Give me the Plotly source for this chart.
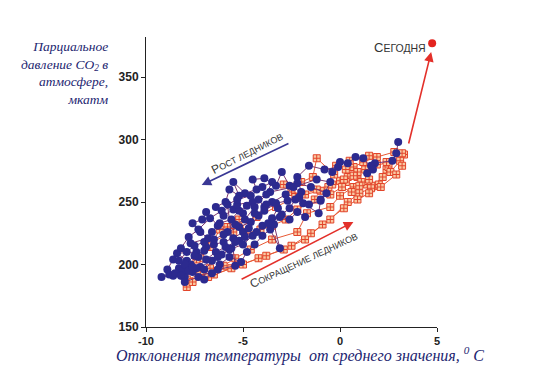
import plotly.graph_objects as go

# Glaciation (blue) series: temperature anomaly, CO2 partial pressure
blue_x = [3.0, 2.9, 2.7, 1.8, 1.6, 1.4, 1.7, 1.2, 0.8, 0.4, 0.0, -0.4, -0.1, -0.8, -1.6, -2.2, -2.0, -2.6, -3.0, -3.3,
          -3.9, -4.5, -4.3, -4.9, -5.5, -5.2, -5.7, -5.9, -6.4, -6.0, -5.5, -5.0, -4.6, -5.2, -5.8, -6.3, -6.9, -7.1, -7.6, -7.2,
          -6.8, -7.7, -7.4, -8.4, -7.9, -8.3, -8.8, -9.2, -8.6, -8.0, -7.6, -7.0, -6.6, -6.2, -5.7, -5.1, -4.8, -4.4, -4.0, -3.6,
          -3.1, -3.4, -3.0, -2.6, -2.3, -1.9, -1.1, -1.0, -0.7, -1.5, -2.2, -2.8, -3.5, -3.9, -4.2, -4.8, -5.2, -5.6, -6.2, -6.6,
          -6.9, -7.3, -7.7, -8.1, -8.5, -8.0, -7.5, -7.0, -6.5, -6.0, -5.5, -5.0, -4.5, -4.0, -3.5, -3.2, -3.8, -4.2, -4.7, -5.2,
          -5.6, -6.1, -6.6, -7.2, -7.8, -8.2, -7.4, -6.9, -6.4, -5.9, -5.4, -4.9, -4.4, -3.9, -3.3, -2.7, -2.1, -1.6, -1.0, -0.5,
          -1.2, -2.4, -3.6, -4.5, -5.3, -6.1, -6.7, -7.3, -7.8, -8.2, -8.6, -8.9, -8.0, -7.3, -6.3, -5.4,
          -5.8, -5.3, -4.6, -4.0, -3.5, -3.8, -4.4, -4.9, -5.4, -6.0, -6.5, -7.0, -7.5, -7.9, -8.3, -7.6, -7.0, -6.3, -5.7, -5.0,
          -4.3, -3.7, -3.1, -2.6, -2.2, -1.8]
blue_y = [298, 289, 283, 281, 279, 273, 276, 285, 286, 281, 282, 274, 278, 276, 279, 270, 258, 263, 274, 263,
          269, 268, 260, 257, 266, 255, 260, 250, 246, 239, 244, 241, 234, 230, 226, 231, 242, 236, 233, 226,
          221, 217, 210, 209, 203, 197, 192, 190, 191, 190, 194, 188, 193, 200, 206, 202, 210, 216, 223, 228,
          213, 232, 240, 245, 252, 249, 241, 252, 257, 262, 265, 256, 250, 246, 252, 247, 243, 236, 233, 226,
          214, 206, 200, 195, 193, 200, 207, 211, 216, 218, 221, 226, 223, 231, 237, 245, 248, 239, 229, 219,
          213, 208, 203, 198, 195, 191, 197, 204, 210, 214, 218, 222, 241, 243, 249, 251, 254, 248, 251, 266,
          268, 262, 258, 250, 248, 243, 237, 228, 222, 213, 204, 196, 186, 190, 196, 199,
          248, 252, 255, 262, 266, 256, 246, 236, 232, 224, 220, 218, 215, 210, 203, 198, 196, 206, 212, 216,
          226, 233, 238, 236, 242, 238]

# Deglaciation (red) series
red_x = [-7.9, -7.9, -7.2, -6.7, -6.0, -5.4, -4.6, -3.5, -2.2, -1.7, -0.5, 0.0, 0.7, 1.4, 1.8, 2.4, 2.5, 3.3, 2.8, 1.9,
         1.2, 0.7, 0.4, 0.0, -0.3, -1.2, -1.4, -2.0, -2.9, -2.5, -1.8, -1.0, -0.6, 0.3, 0.9, 1.1, 1.5, 1.0, 0.6, 0.1,
         -0.5, -1.3, -2.2, -2.8, -3.5, -4.1, -4.8, -5.2, -5.8, -6.2, -6.7, -7.2, -7.7, -8.1, -7.6, -6.5, -5.0, -3.8, -2.5, -1.5,
         -0.5, 0.4, 1.0, 1.6, 2.0, 2.2, 2.6, 3.1, 3.2, 2.4, 1.6, 0.9, 0.3, -0.2, 0.5, 1.5, 1.9, 1.3, 0.7, 0.2,
         -0.4, -1.2, -2.3, -3.3, -4.3, -5.5, -6.6, -7.4, -7.9, -6.8, -5.6, -4.2, -2.9, -1.8, -0.9, 0.2, 0.9, 1.5, 2.1, 2.9, 3.2]
red_y = [182, 188, 192, 197, 199, 205, 212, 220, 226, 241, 246, 255, 262, 264, 263, 276, 278, 288, 290, 286,
         282, 278, 270, 267, 272, 285, 270, 266, 264, 258, 256, 259, 262, 266, 270, 266, 268, 263, 258, 262,
         256, 252, 244, 236, 231, 228, 225, 236, 230, 228, 214, 205, 199, 193, 186, 192, 200, 207, 215, 225,
         236, 250, 257, 261, 264, 270, 274, 283, 289, 282, 277, 274, 276, 279, 283, 287, 280, 276, 271, 268,
         264, 260, 254, 246, 238, 226, 218, 204, 196, 190, 197, 205, 212, 220, 232, 245, 252, 257, 262, 272, 279]

today_x = [4.75]
today_y = [377]

x_ticks = [-10, -5, 0, 5]
y_ticks = [150, 200, 250, 300, 350]

# page body has an 8px default margin; compensate so the plot lands where the reference has it
OFF = 8
L, R, T, B = 146 - OFF, 119, 37 - OFF, 39
W, H = 556 - OFF, 366 - OFF
PW, PH = W - L - R, H - T - B
PLOT_LEFT, PLOT_BOTTOM = 146, 327  # screen pixels


def px_x(sx):
    return (sx - PLOT_LEFT) / PW


def px_y(sy):
    return (PLOT_BOTTOM - sy) / PH


fig = go.Figure()
fig.add_trace(go.Scatter(
    x=red_x, y=red_y, mode="lines+markers",
    line=dict(color="#e85a35", width=1),
    marker=dict(symbol="square-cross", size=7, color="#f9c8a2",
                line=dict(color="#e2452b", width=1)),
    hoverinfo="skip", showlegend=False))
fig.add_trace(go.Scatter(
    x=blue_x, y=blue_y, mode="lines+markers",
    line=dict(color="#7a3670", width=1),
    marker=dict(symbol="circle", size=8, color="#2c2a8f",
                line=dict(color="#2c2a8f", width=0)),
    hoverinfo="skip", showlegend=False))
fig.add_trace(go.Scatter(
    x=today_x, y=today_y, mode="markers",
    marker=dict(symbol="circle", size=8, color="#e3241f"),
    hoverinfo="skip", showlegend=False))

arrow_common = dict(xref="x", yref="y", axref="x", ayref="y", text="",
                    showarrow=True, arrowhead=2, arrowsize=1.2, arrowwidth=1.6)
fig.add_annotation(x=-7.13, y=263.6, ax=-2.58, ay=297.4, arrowcolor="#3a3895", **arrow_common)
fig.add_annotation(x=0.69, y=234, ax=-5.15, ay=187.6, arrowcolor="#e3302a", **arrow_common)
fig.add_annotation(x=4.7, y=370, ax=3.52, ay=295.6, arrowcolor="#e3302a", **arrow_common)

lab_font = dict(family="Liberation Sans, Arial, sans-serif", size=9, color="#333333")
fig.add_annotation(x=-4.8, y=289, xref="x", yref="y", showarrow=False, textangle=-27,
                   text="<span style='font-size:12px'>Р</span>ОСТ ЛЕДНИКОВ", font=lab_font)
fig.add_annotation(x=-1.9, y=203.6, xref="x", yref="y", showarrow=False, textangle=-25,
                   text="<span style='font-size:12px'>С</span>ОКРАЩЕНИЕ ЛЕДНИКОВ", font=lab_font)
fig.add_annotation(x=1.65, y=373.8, xref="x", yref="y", showarrow=False, xanchor="left",
                   text="<span style='font-size:13px'>С</span>ЕГОДНЯ",
                   font=dict(family="Liberation Sans, Arial, sans-serif", size=10.5, color="#333333"))

title_font = dict(family="Liberation Serif, Times New Roman, serif", size=13.5, color="#1c2570")
fig.add_annotation(x=px_x(111), y=px_y(37), xref="paper", yref="paper", showarrow=False,
                   text="<i>Парциальное<br>давление CO<sub>2</sub> в<br>атмосфере,<br>мкатм</i>",
                   align="right", xanchor="right", yanchor="top", font=title_font)
fig.add_annotation(x=px_x(300), y=px_y(354), xref="paper", yref="paper", showarrow=False,
                   text="<i>Отклонения температуры  от среднего значения, <sup>0</sup> С</i>",
                   xanchor="center", yanchor="middle",
                   font=dict(family="Liberation Serif, Times New Roman, serif", size=16, color="#1c2570"))

fig.update_layout(
    width=W, height=H,
    margin=dict(l=L, r=R, t=T, b=B, autoexpand=False),
    paper_bgcolor="white", plot_bgcolor="white",
    xaxis=dict(range=[-10, 5], tickvals=x_ticks, ticktext=[f"<b>{t}</b>" for t in x_ticks],
               showgrid=False, zeroline=False, showline=True, linecolor="#222", linewidth=1,
               ticks="outside", ticklen=4, tickcolor="#222",
               tickfont=dict(family="Liberation Sans, Arial", size=11, color="#222")),
    yaxis=dict(range=[150, 382], tickvals=y_ticks, ticktext=[f"<b>{t}</b>" for t in y_ticks],
               showgrid=False, zeroline=False, showline=True, linecolor="#222", linewidth=1,
               ticks="outside", ticklen=4, tickcolor="#222",
               tickfont=dict(family="Liberation Sans, Arial", size=12, color="#222")),
)

fig.write_html("out.html")
